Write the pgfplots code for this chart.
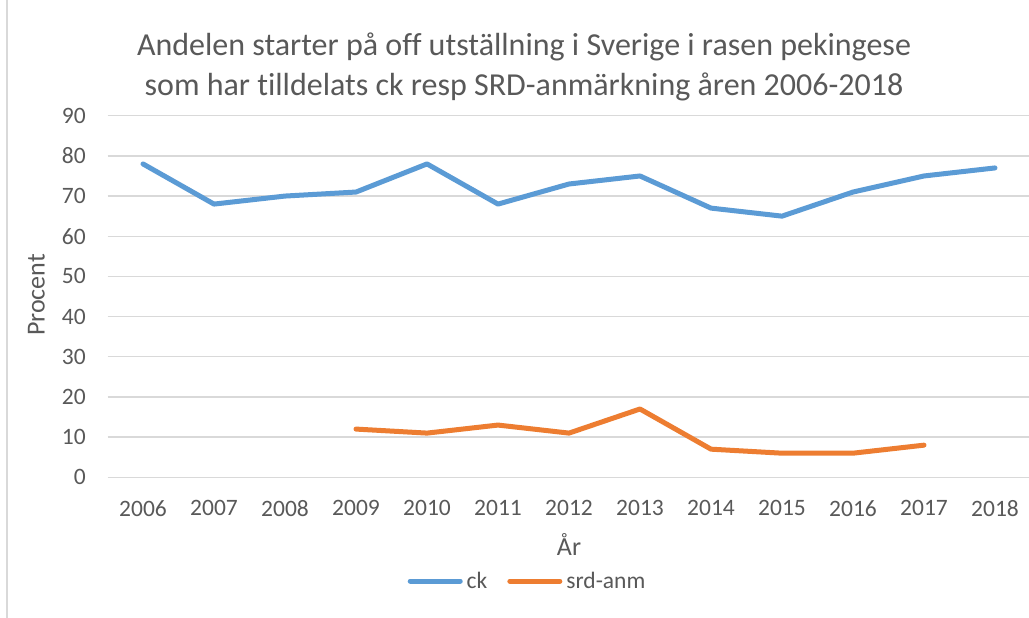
\documentclass[border=0pt]{standalone}
\usepackage{pgfplots}
\pgfplotsset{compat=1.18}
\usepackage{fontspec}
\setmainfont{Carlito}[Ligatures={NoCommon}]
\definecolor{txt}{HTML}{595959}
\definecolor{gridc}{HTML}{D9D9D9}
\definecolor{ckc}{HTML}{5B9BD5}
\definecolor{srdc}{HTML}{ED7D31}
\begin{document}
\begin{tikzpicture}[x=1pt,y=1pt]
\useasboundingbox (0,0) rectangle (1029,618);
\clip (0,0) rectangle (1029,618);
\fill[white] (0,0) rectangle (1029,618);
\draw[gridc, line width=1.3pt] (7,0) -- (7,618);
\begin{axis}[
  at={(107.5pt,140.7pt)}, anchor=south west,
  width=923pt, height=361.6pt, scale only axis,
  xmin=-0.5, xmax=12.5, ymin=0, ymax=90,
  xtick={0,...,12},
  xticklabels={2006,2007,2008,2009,2010,2011,2012,2013,2014,2015,2016,2017,2018},
  ytick={0,10,...,90},
  axis line style={draw=none},
  major tick length=0pt,
  ymajorgrids, grid style={gridc, line width=1.3pt},
  clip=false,
  /pgf/number format/assume math mode=true,
  ticklabel style={font=\fontsize{23.5}{28}\selectfont, text=txt, inner sep=0pt},
  yticklabel style={anchor=east, xshift=-21.5pt},
  xticklabel style={anchor=north, yshift=-22.7pt},
  legend style={draw=none, fill=none, inner sep=0pt,
    at={(axis description cs:0.454,-0.287)}, anchor=center,
    nodes={inner sep=0pt, text=txt, font=\fontsize{23.5}{28}\selectfont},
    /tikz/every odd column/.append style={column sep=4pt},
    /tikz/every even column/.append style={column sep=20pt}},
  legend columns=2,
  legend image code/.code={\draw[#1, line cap=round] (0pt,0pt) -- (50pt,0pt);},
]
\addplot[ckc, line width=5pt, line join=round, line cap=round] coordinates {
 (0,78) (1,68) (2,70) (3,71) (4,78) (5,68) (6,73) (7,75) (8,67) (9,65) (10,71) (11,75) (12,77)};
\addlegendentry{ck}
\addplot[srdc, line width=5pt, line join=round, line cap=round] coordinates {
 (3,12) (4,11) (5,13) (6,11) (7,17) (8,7) (9,6) (10,6) (11,8)};
\addlegendentry{srd-anm}
\end{axis}
\node[anchor=base, text=txt, font=\fontsize{26}{31}\selectfont] at (569,62) {År};
\node[anchor=base, rotate=90, text=txt, font=\fontsize{26}{31}\selectfont] at (44.5,323) {Procent};
\node[anchor=base, text=txt, font=\fontsize{32}{38}\selectfont] at (524,562) {Andelen starter på off utställning i Sverige i rasen pekingese};
\node[anchor=base, text=txt, font=\fontsize{32}{38}\selectfont] at (524,522.5) {som har tilldelats ck resp SRD-anmärkning åren 2006-2018};
\end{tikzpicture}
\end{document}
